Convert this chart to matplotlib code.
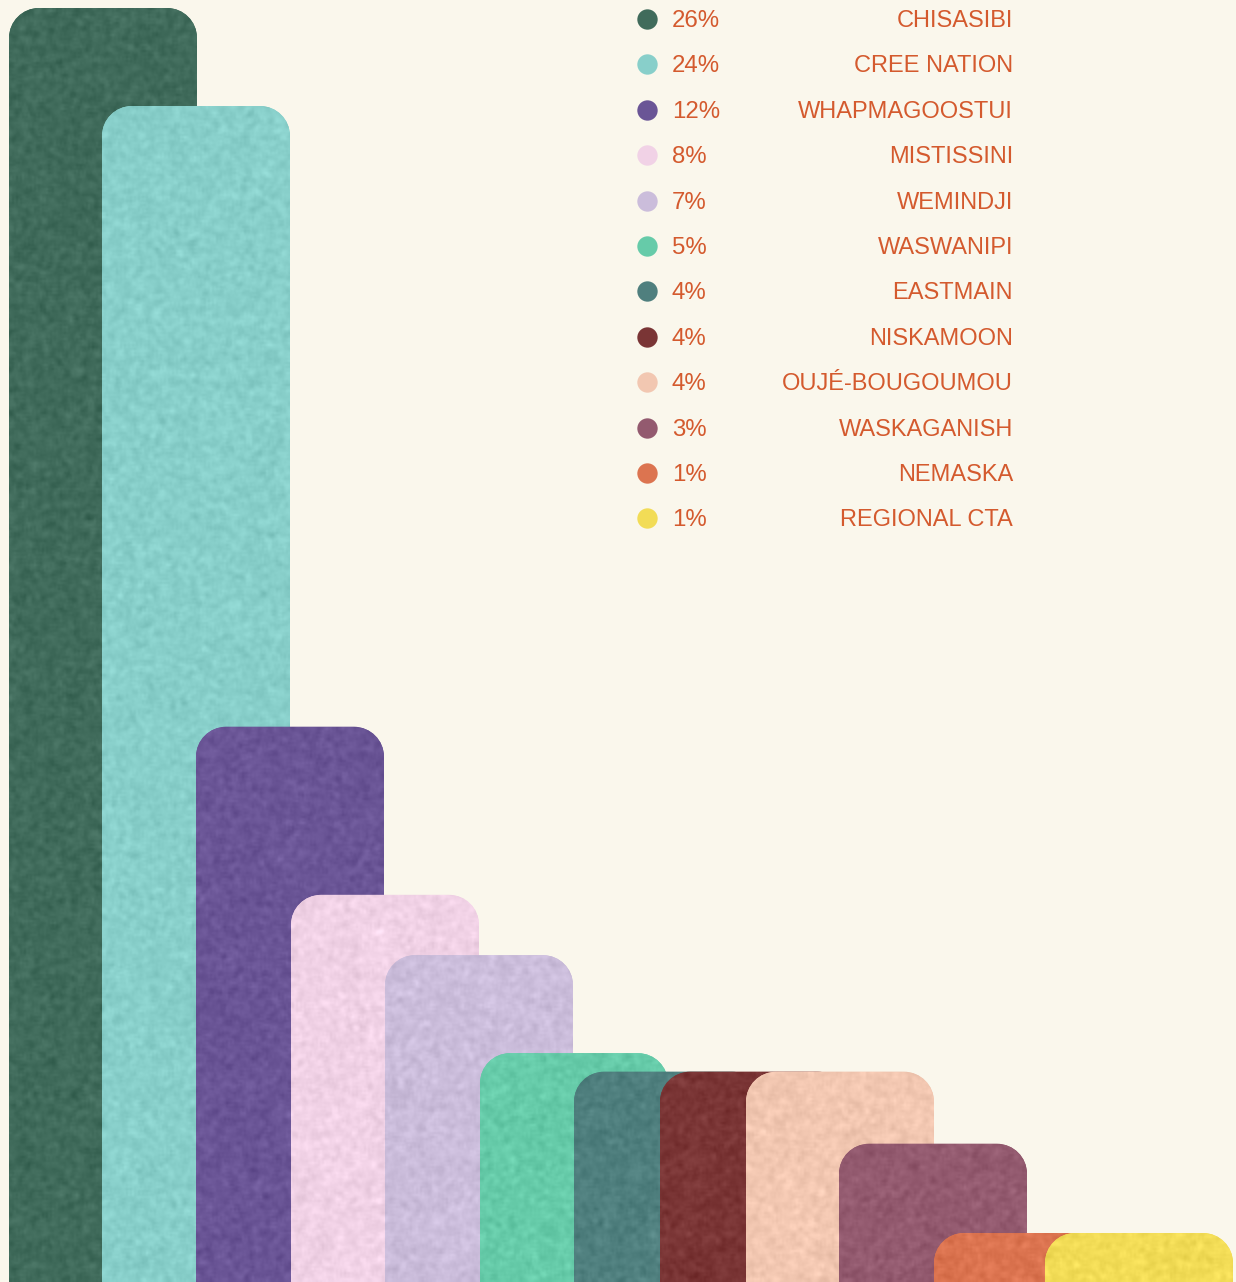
import numpy as np
import matplotlib
matplotlib.use("Agg")
import matplotlib.pyplot as plt
from matplotlib.path import Path
from matplotlib.patches import PathPatch
from matplotlib.colors import to_rgb

# ---- data ----
communities = ["CHISASIBI", "CREE NATION", "WHAPMAGOOSTUI", "MISTISSINI", "WEMINDJI",
               "WASWANIPI", "EASTMAIN", "NISKAMOON", "OUJÉ-BOUGOUMOU", "WASKAGANISH",
               "NEMASKA", "REGIONAL CTA"]
shares = [26.0, 24.0, 11.33, 7.9, 6.67, 4.67, 4.29, 4.29, 4.29, 2.82, 1.0, 1.0]
pct_labels = ["26%", "24%", "12%", "8%", "7%", "5%", "4%", "4%", "4%", "3%", "1%", "1%"]
colors = ["#406b5b", "#88cfca", "#6a5596", "#f1d2e6", "#cbbddb", "#66cba9",
          "#4f7f7e", "#7a3535", "#f2c7b1", "#935a6f", "#dc7450", "#f2dc56"]
bar_left = [9, 102, 196, 291, 385, 480, 574, 660, 746, 839, 934, 1045]

BG = "#faf7ec"
TXT = "#d45a2e"
W, H = 1236, 1282
BAR_W = 188
RAD = 30  # px

fig = plt.figure(figsize=(W / 100, H / 100), dpi=100, facecolor=BG)
ax = fig.add_axes([0, 0, 1, 1])
ax.set_facecolor(BG)
ax.set_xlim(0, W)
ymax = 26.0 * H / (H - 8)
ax.set_ylim(0, ymax)
ax.axis("off")

py_per_unit = H / ymax
ry = RAD / py_per_unit
rx = RAD

# subtle paper-like texture (decoration only)
rng = np.random.default_rng(3)
noise = rng.normal(size=(H // 2, W // 2))
k = np.ones(3) / 3
noise = np.apply_along_axis(lambda r: np.convolve(r, k, mode="same"), 1, noise)
noise = np.apply_along_axis(lambda c: np.convolve(c, k, mode="same"), 0, noise)
noise = noise / noise.std()

def top_rounded(x0, w, h):
    x1 = x0 + w
    c = 0.5523
    verts = [(x0, -1), (x0, h - ry),
             (x0, h - ry + ry * c), (x0 + rx - rx * c, h), (x0 + rx, h),
             (x1 - rx, h),
             (x1 - rx + rx * c, h), (x1, h - ry + ry * c), (x1, h - ry),
             (x1, -1), (x0, -1)]
    codes = [Path.MOVETO, Path.LINETO,
             Path.CURVE4, Path.CURVE4, Path.CURVE4,
             Path.LINETO,
             Path.CURVE4, Path.CURVE4, Path.CURVE4,
             Path.LINETO, Path.CLOSEPOLY]
    return Path(verts, codes)

for i, (x0, v, col) in enumerate(zip(bar_left, shares, colors)):
    p = PathPatch(top_rounded(x0, BAR_W, v), facecolor=col, edgecolor="none", zorder=2 + 2 * i)
    ax.add_patch(p)
    rgb = np.array(to_rgb(col))
    tex = np.clip(rgb[None, None, :] + 0.018 * noise[:, :, None], 0, 1)
    im = ax.imshow(tex, extent=(0, W, 0, ymax), aspect="auto",
                   zorder=3 + 2 * i, interpolation="bilinear")
    im.set_clip_path(p)

# legend
row_y0 = 21
row_step = 45.4
for i, (name, lab, col) in enumerate(zip(communities, pct_labels, colors)):
    ypix = row_y0 + i * row_step
    yd = (H - ypix) / py_per_unit
    ax.scatter([647], [yd + 0.04], s=215, color=col, zorder=50, linewidths=0)
    ax.text(672, yd, lab, color=TXT, fontsize=17.3, family="Liberation Sans",
            va="center", ha="left", zorder=51)
    ax.text(1013, yd, name, color=TXT, fontsize=17.0, family="Liberation Sans",
            va="center", ha="right", zorder=51)

fig.savefig("out.png", dpi=100, facecolor=BG)
